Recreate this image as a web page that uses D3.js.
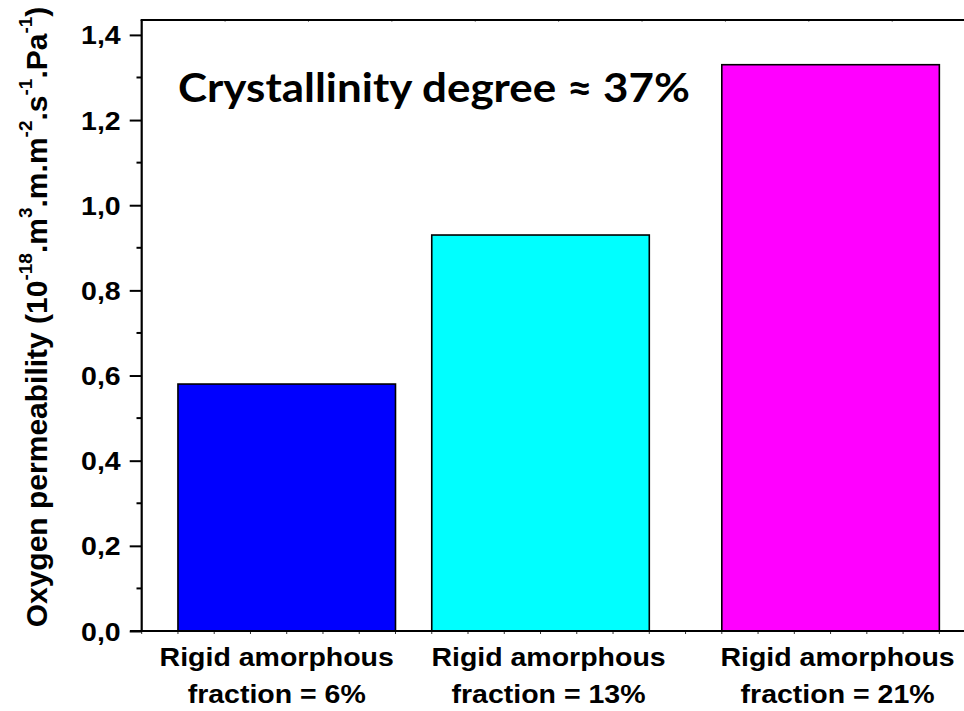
<!DOCTYPE html>
<html>
<head>
<meta charset="utf-8">
<script src="https://cdn.jsdelivr.net/npm/d3@7"></script>
<style>
  html, body { margin: 0; padding: 0; background: #fff; }
  svg { display: block; }
</style>
</head>
<body>
<div id="chart"></div>
<script>
// ---- data ----
const categories = ["Rigid amorphous|fraction = 6%", "Rigid amorphous|fraction = 13%", "Rigid amorphous|fraction = 21%"];
const rigidFraction = [6, 13, 21];          // % rigid amorphous fraction (x position)
const permeability = [0.58, 0.93, 1.33];    // 10^-18 m3.m.m-2.s-1.Pa-1
const barColors = ["#0000FF", "#00FFFF", "#FF00FF"];
const yTickValues = [0, 0.2, 0.4, 0.6, 0.8, 1.0, 1.2, 1.4];
const yTickLabels = ["0,0", "0,2", "0,4", "0,6", "0,8", "1,0", "1,2", "1,4"];
const titleText = "Crystallinity degree \u2248 37%";
const yTitleParts = [
  ["Oxygen permeability (10", false], ["-18", true], [".m", false], ["3", true],
  [".m.m", false], ["-2", true], [".s", false], ["-1", true], [".Pa", false], ["-1", true], [")", false]
];

// ---- layout ----
const W = 964, H = 711;
const sx = 1.14; // horizontal stretch of the original figure's text
const labelShift = [-10, 8, 7];
const svg = d3.select("#chart").append("svg").attr("width", W).attr("height", H);

const x = d3.scaleLinear().domain([2, 24.68]).range([141.7, 964]);
const y = d3.scaleLinear().domain([0, 1.435]).range([631, 20]);
const barWidth = 6; // in x units

// bars
svg.selectAll("rect.bar").data(permeability).enter().append("rect")
  .attr("class", "bar")
  .attr("x", (d, i) => x(rigidFraction[i] - barWidth / 2))
  .attr("width", (d, i) => x(rigidFraction[i] + barWidth / 2) - x(rigidFraction[i] - barWidth / 2))
  .attr("y", d => y(d))
  .attr("height", d => y(0) - y(d))
  .attr("fill", (d, i) => barColors[i])
  .attr("stroke", "#000")
  .attr("stroke-width", 1.6);

// bottom axis minor ticks
const xMinor = d3.range(2, 25, 1);
svg.append("g").selectAll("line").data(xMinor).enter().append("line")
  .attr("x1", d => x(d)).attr("x2", d => x(d))
  .attr("y1", y(0)).attr("y2", y(0) + 3)
  .attr("stroke", "#333").attr("stroke-width", 1);

// top axis faint ticks
const topTicks = d3.range(0, 10).map(i => 2 + 2.3 * i);
svg.append("g").selectAll("line").data(topTicks).enter().append("line")
  .attr("x1", d => x(d)).attr("x2", d => x(d))
  .attr("y1", y(1.435)).attr("y2", y(1.435) + 2)
  .attr("stroke", "#888").attr("stroke-width", 1);

// y axis
const yAxis = d3.axisLeft(y).tickValues(yTickValues).tickSize(12)
  .tickFormat((d, i) => yTickLabels[i]);
const gy = svg.append("g").attr("transform", "translate(141.7,0)").call(yAxis);
gy.select(".domain").remove();
gy.selectAll(".tick line").attr("stroke", "#000").attr("stroke-width", 2);
gy.selectAll(".tick text").remove();
gy.selectAll(".tick").append("text")
  .attr("transform", "translate(-21,0) scale(" + sx + ",1)")
  .attr("dy", "0.36em")
  .attr("text-anchor", "end")
  .attr("fill", "#000")
  .style("font-family", "Arial, 'Liberation Sans', sans-serif")
  .style("font-weight", "bold")
  .style("font-size", "25px")
  .text((d, i) => yTickLabels[i]);

// y minor ticks
const yMinor = d3.range(0.1, 1.45, 0.2);
svg.append("g").selectAll("line").data(yMinor).enter().append("line")
  .attr("x1", 136.5).attr("x2", 141.7)
  .attr("y1", d => y(d)).attr("y2", d => y(d))
  .attr("stroke", "#000").attr("stroke-width", 2);

// frame lines: left, bottom, top
svg.append("line").attr("x1", 141.7).attr("x2", 141.7).attr("y1", y(1.435)).attr("y2", y(0))
  .attr("stroke", "#000").attr("stroke-width", 2.2);
svg.append("line").attr("x1", 130).attr("x2", W).attr("y1", y(0)).attr("y2", y(0))
  .attr("stroke", "#000").attr("stroke-width", 2.2);
svg.append("line").attr("x1", 140.6).attr("x2", W).attr("y1", y(1.435)).attr("y2", y(1.435))
  .attr("stroke", "#000").attr("stroke-width", 2.2);

// category labels
const catG = svg.append("g");
categories.forEach((c, i) => {
  const lines = c.split("|");
  lines.forEach((ln, j) => {
    catG.append("text")
      .attr("transform", "translate(" + (x(rigidFraction[i]) + labelShift[i]) + "," + (666 + j * 37) + ") scale(" + sx + ",1)")
      .attr("text-anchor", "middle")
      .style("font-family", "Arial, 'Liberation Sans', sans-serif")
      .style("font-weight", "bold")
      .style("font-size", "25px")
      .attr("fill", "#000")
      .text(ln);
  });
});

// y axis title
const baseSize = 30, supSize = 19, supShift = 15;
const yt = svg.append("text")
  .attr("transform", "translate(47,317) rotate(-90)")
  .attr("text-anchor", "middle")
  .style("font-family", "Arial, 'Liberation Sans', sans-serif")
  .style("font-weight", "bold")
  .style("font-size", baseSize + "px")
  .attr("fill", "#000");
yTitleParts.forEach((p, i) => {
  const t = yt.append("tspan").text(p[0]);
  if (p[1]) {
    t.attr("dy", -supShift).style("font-size", supSize + "px");
  } else if (i > 0 && yTitleParts[i - 1][1]) {
    t.attr("dy", supShift);
  }
});

// title
svg.append("text")
  .attr("x", 178).attr("y", 102)
  .attr("textLength", 512).attr("lengthAdjust", "spacingAndGlyphs")
  .style("font-family", "Lato, 'Open Sans', sans-serif")
  .style("font-weight", "bold")
  .style("font-size", "40px")
  .attr("fill", "#000")
  .text(titleText);
</script>
</body>
</html>
